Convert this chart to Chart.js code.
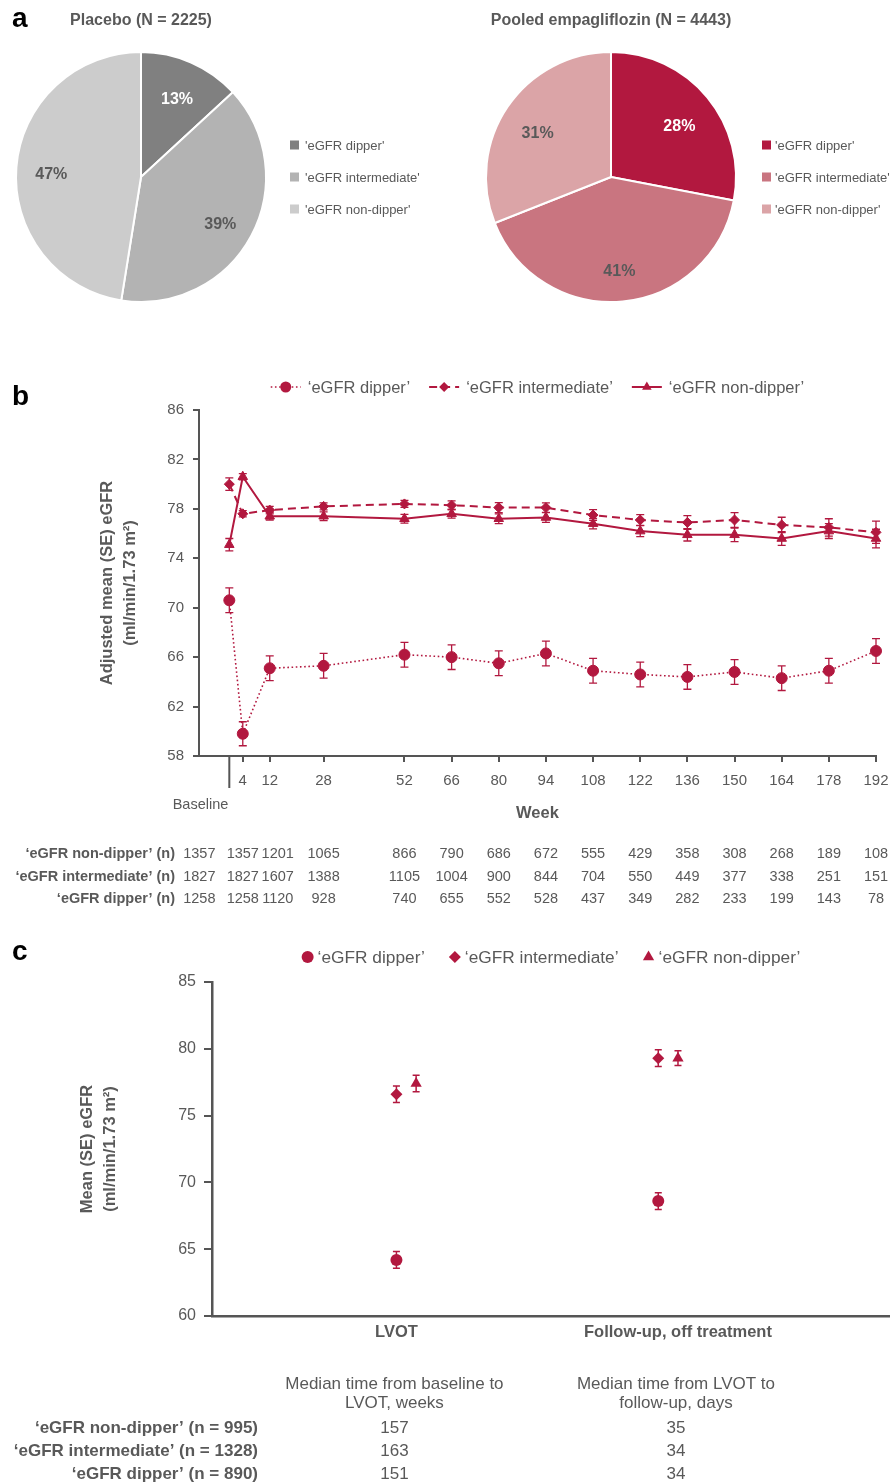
<!DOCTYPE html>
<html>
<head>
<meta charset="utf-8">
<title>eGFR dipper groups</title>
<script src="https://cdn.jsdelivr.net/npm/chart.js@4.4.1/dist/chart.umd.min.js"></script>
<style>
  html, body { margin: 0; padding: 0; background: #fff; }
  #page { position: relative; width: 890px; height: 1484px; overflow: hidden; }
  #page canvas { position: absolute; }
</style>
</head>
<body>
<div id="page">
  <canvas id="piePlacebo" width="445" height="330" style="left:0;top:0"></canvas>
  <canvas id="pieEmpa" width="445" height="330" style="left:445px;top:0"></canvas>
  <canvas id="lineChart" width="890" height="560" style="left:0;top:360px"></canvas>
  <canvas id="lvotChart" width="890" height="554" style="left:0;top:930px"></canvas>
</div>
<script>
const FONT = "'Liberation Sans', Arial, Helvetica, sans-serif";
const TEXT = '#595959';
const AXIS = '#555555';
const RED = '#b2183f';

// panel a
const pieGroups = ["'eGFR dipper'", "'eGFR intermediate'", "'eGFR non-dipper'"];
const placeboPct = [13, 39, 47];
const empaPct = [28, 41, 31];

// panel b
const weeks = [0, 4, 12, 28, 52, 66, 80, 94, 108, 122, 136, 150, 164, 178, 192];
const weekTicks = [4, 12, 28, 52, 66, 80, 94, 108, 122, 136, 150, 164, 178, 192];
const dipperMean = [70.6, 59.8, 65.1, 65.3, 66.2, 66.0, 65.5, 66.3, 64.9, 64.6, 64.4, 64.8, 64.3, 64.9, 66.5];
const dipperSE = [1.0, 0.97, 1.0, 1.0, 1.0, 1.0, 1.0, 1.0, 1.0, 1.0, 1.0, 1.0, 1.0, 1.0, 1.0];
const intermediateMean = [80.0, 77.6, 77.9, 78.2, 78.4, 78.3, 78.1, 78.1, 77.5, 77.1, 76.9, 77.1, 76.7, 76.5, 76.1];
const intermediateSE = [0.5, 0.25, 0.3, 0.28, 0.28, 0.35, 0.4, 0.38, 0.43, 0.43, 0.55, 0.6, 0.62, 0.7, 0.9];
const nonDipperMean = [75.1, 80.6, 77.4, 77.4, 77.2, 77.6, 77.2, 77.3, 76.8, 76.2, 75.9, 75.9, 75.6, 76.2, 75.6];
const nonDipperSE = [0.5, 0.25, 0.3, 0.35, 0.35, 0.35, 0.4, 0.4, 0.42, 0.45, 0.5, 0.55, 0.55, 0.6, 0.75];
const nNonDipper = [1357, 1357, 1201, 1065, 866, 790, 686, 672, 555, 429, 358, 308, 268, 189, 108];
const nIntermediate = [1827, 1827, 1607, 1388, 1105, 1004, 900, 844, 704, 550, 449, 377, 338, 251, 151];
const nDipper = [1258, 1258, 1120, 928, 740, 655, 552, 528, 437, 349, 282, 233, 199, 143, 78];

// panel c
const cTimepoints = ['LVOT', 'Follow-up, off treatment'];
const cDipperX = [1.0, 1.93];
const cDipperMean = [64.2, 68.6];
const cDipperSE = [0.62, 0.62];
const cIntermediateX = [1.0, 1.93];
const cIntermediateMean = [76.6, 79.3];
const cIntermediateSE = [0.62, 0.62];
const cNonDipperX = [1.07, 2.0];
const cNonDipperMean = [77.4, 79.3];
const cNonDipperSE = [0.62, 0.55];
const cMedianWeeks = [157, 163, 151];
const cMedianDays = [35, 34, 34];
const cRowLabels = ["\u2018eGFR non-dipper\u2019 (n = 995)", "\u2018eGFR intermediate\u2019 (n = 1328)", "\u2018eGFR dipper\u2019 (n = 890)"];

// table column nudges (px) so the first columns of panel b do not collide
const tableShiftPx = [-30, 0, 8, 0, 0, 0, 0, 0, 0, 0, 0, 0, 0, 0, 0];

Chart.defaults.font.family = FONT;
Chart.defaults.color = TEXT;

function series(xs, ys) {
    return xs.map((x, i) => ({ x: x, y: ys[i] }));
}

function text(ctx, str, x, y, font, color, align, baseline) {
    ctx.save();
    ctx.font = font;
    ctx.fillStyle = color;
    ctx.textAlign = align || 'center';
    ctx.textBaseline = baseline || 'middle';
    ctx.fillText(str, x, y);
    ctx.restore();
}

function vText(ctx, lines, xs, yc, font) {
    lines.forEach((t, i) => {
        ctx.save();
        ctx.translate(xs[i], yc);
        ctx.rotate(-Math.PI / 2);
        text(ctx, t, 0, 0, font, TEXT);
        ctx.restore();
    });
}

function drawLegend(chart, o) {
    const ctx = chart.ctx, ca = chart.chartArea;
    const sets = chart.data.datasets;
    ctx.save();
    ctx.font = o.size + 'px ' + FONT;
    const widths = sets.map(ds => ctx.measureText(ds.label).width);
    const total = widths.reduce((s, w) => s + o.sample + o.gap + w, 0) + o.spacing * (sets.length - 1);
    let x = (ca.left + ca.right) / 2 - total / 2;
    sets.forEach((ds, i) => {
        if (o.line) {
            ctx.setLineDash(ds.borderDash || []);
            ctx.lineWidth = ds.borderWidth;
            ctx.strokeStyle = ds.borderColor;
            ctx.beginPath();
            ctx.moveTo(x, o.y);
            ctx.lineTo(x + o.sample, o.y);
            ctx.stroke();
            ctx.setLineDash([]);
        }
        ctx.fillStyle = ds.pointBackgroundColor;
        ctx.strokeStyle = ds.pointBorderColor;
        Chart.helpers.drawPoint(ctx, { pointStyle: ds.pointStyle, radius: ds.pointRadius, rotation: 0, borderWidth: 0 }, x + o.sample / 2, o.y);
        ctx.fillStyle = TEXT;
        ctx.textAlign = 'left';
        ctx.textBaseline = 'middle';
        ctx.fillText(ds.label, x + o.sample + o.gap, o.y + 1);
        x += o.sample + o.gap + widths[i] + o.spacing;
    });
    ctx.restore();
}

const errorBars = {
    id: 'errorBars',
    beforeDatasetsDraw(chart, args, o) {
        const ctx = chart.ctx, y = chart.scales.y;
        chart.data.datasets.forEach((ds, i) => {
            const meta = chart.getDatasetMeta(i);
            ctx.save();
            ctx.strokeStyle = ds.borderColor;
            ctx.lineWidth = o.width;
            ctx.setLineDash([]);
            meta.data.forEach((pt, j) => {
                const v = ds.data[j].y, e = ds.errors[j];
                const top = y.getPixelForValue(v + e), bot = y.getPixelForValue(v - e);
                ctx.beginPath();
                ctx.moveTo(pt.x, top); ctx.lineTo(pt.x, bot);
                ctx.moveTo(pt.x - o.cap, top); ctx.lineTo(pt.x + o.cap, top);
                ctx.moveTo(pt.x - o.cap, bot); ctx.lineTo(pt.x + o.cap, bot);
                ctx.stroke();
            });
            ctx.restore();
        });
    }
};

const pieDecor = {
    id: 'pieDecor',
    afterDraw(chart, args, o) {
        const ctx = chart.ctx;
        const ds = chart.data.datasets[0];
        const arcs = chart.getDatasetMeta(0).data;
        arcs.forEach((arc, i) => {
            const a = (arc.startAngle + arc.endAngle) / 2;
            const r = arc.outerRadius * o.labelRadius;
            text(ctx, ds.data[i] + '%', arc.x + Math.cos(a) * r, arc.y + Math.sin(a) * r + o.labelDy, 'bold 16px ' + FONT, o.labelColors[i]);
        });
        text(ctx, o.title, arcs[0].x, 25, 'bold 16px ' + FONT, TEXT, 'center', 'alphabetic');
        if (o.letter) text(ctx, o.letter, 12, 27, 'bold 28px ' + FONT, '#000', 'left', 'alphabetic');
        chart.data.labels.forEach((lab, i) => {
            const yy = o.legendY + i * 32;
            ctx.fillStyle = ds.backgroundColor[i];
            ctx.fillRect(o.legendX, yy - 4.5, 9, 9);
            text(ctx, lab, o.legendX + o.textOffset, yy + 1, '13px ' + FONT, TEXT, 'left');
        });
    }
};

function pieChart(id, values, colors, decor) {
    return new Chart(document.getElementById(id), {
        type: 'pie',
        data: {
            labels: pieGroups,
            datasets: [{
                data: values,
                backgroundColor: colors,
                borderColor: '#ffffff',
                borderWidth: 2,
                hoverOffset: 0,
                offset: 0
            }]
        },
        options: {
            responsive: false,
            animation: false,
            devicePixelRatio: 1,
            events: [],
            layout: { padding: decor.padding },
            plugins: {
                legend: { display: false },
                tooltip: { enabled: false },
                pieDecor: decor
            }
        },
        plugins: [pieDecor]
    });
}

pieChart('piePlacebo', placeboPct, ['#808080', '#b3b3b3', '#cccccc'], {
    padding: { left: 15, right: 178, top: 51, bottom: 27 },
    title: 'Placebo (N = 2225)',
    letter: 'a',
    labelRadius: 0.72,
    labelDy: 5,
    labelColors: ['#ffffff', TEXT, TEXT],
    legendX: 290, legendY: 145, textOffset: 15
});

pieChart('pieEmpa', empaPct, ['#b2183f', '#c97580', '#dba4a7'], {
    padding: { left: 40, right: 153, top: 51, bottom: 27 },
    title: 'Pooled empagliflozin (N = 4443)',
    letter: null,
    labelRadius: 0.71,
    labelDy: 6,
    labelColors: ['#ffffff', TEXT, TEXT],
    legendX: 317, legendY: 145, textOffset: 13
});

// panel b
const lineDecor = {
    id: 'lineDecor',
    afterDraw(chart) {
        const ctx = chart.ctx, ca = chart.chartArea, x = chart.scales.x;
        text(ctx, 'b', 12, 45, 'bold 28px ' + FONT, '#000', 'left', 'alphabetic');
        drawLegend(chart, { y: 27, size: 16.5, sample: 30, gap: 7, spacing: 19, line: true });
        vText(ctx, ['Adjusted mean (SE) eGFR', '(ml/min/1.73 m\u00b2)'], [107, 130], (ca.top + ca.bottom) / 2, 'bold 16.5px ' + FONT);

        const bx = x.getPixelForValue(0);
        ctx.save();
        ctx.strokeStyle = AXIS;
        ctx.lineWidth = 2;
        ctx.beginPath();
        ctx.moveTo(bx, ca.bottom);
        ctx.lineTo(bx, ca.bottom + 32);
        ctx.stroke();
        ctx.restore();
        text(ctx, 'Baseline', bx - 1, 445, '14.5px ' + FONT, TEXT, 'right');
        text(ctx, 'Week', (ca.left + ca.right) / 2, 453, 'bold 16.5px ' + FONT, TEXT);

        const rows = [["\u2018eGFR non-dipper\u2019 (n)", nNonDipper], ["\u2018eGFR intermediate\u2019 (n)", nIntermediate], ["\u2018eGFR dipper\u2019 (n)", nDipper]];
        rows.forEach((row, r) => {
            const yy = 494 + r * 22.5;
            text(ctx, row[0], 175, yy, 'bold 14.5px ' + FONT, TEXT, 'right');
            row[1].forEach((n, i) => {
                text(ctx, String(n), x.getPixelForValue(weeks[i]) + tableShiftPx[i], yy, '14.5px ' + FONT, TEXT);
            });
        });
    }
};

new Chart(document.getElementById('lineChart'), {
    type: 'line',
    data: {
        datasets: [
            {
                label: '\u2018eGFR dipper\u2019',
                data: series(weeks, dipperMean),
                errors: dipperSE,
                borderColor: RED,
                borderWidth: 1.6,
                borderDash: [1.6, 2.6],
                pointStyle: 'circle',
                pointRadius: 5.5,
                pointBackgroundColor: RED,
                pointBorderColor: RED,
                pointBorderWidth: 1,
                clip: false
            },
            {
                label: '\u2018eGFR intermediate\u2019',
                data: series(weeks, intermediateMean),
                errors: intermediateSE,
                borderColor: RED,
                borderWidth: 2,
                borderDash: [8, 5],
                pointStyle: 'rectRot',
                pointRadius: 5,
                pointBackgroundColor: RED,
                pointBorderColor: RED,
                pointBorderWidth: 1,
                clip: false
            },
            {
                label: '\u2018eGFR non-dipper\u2019',
                data: series(weeks, nonDipperMean),
                errors: nonDipperSE,
                borderColor: RED,
                borderWidth: 2,
                pointStyle: 'triangle',
                pointRadius: 5.5,
                pointBackgroundColor: RED,
                pointBorderColor: RED,
                pointBorderWidth: 1,
                clip: false
            }
        ]
    },
    options: {
        responsive: false,
        animation: false,
        devicePixelRatio: 1,
        events: [],
        layout: { autoPadding: false, padding: { left: 0, right: 14, top: 50, bottom: 124 } },
        scales: {
            x: {
                type: 'linear',
                min: -9,
                max: 192,
                afterBuildTicks: s => { s.ticks = weekTicks.map(v => ({ value: v })); },
                afterFit: s => { s.height = 40; s.paddingLeft = 0; s.paddingRight = 0; },
                ticks: { autoSkip: false, maxRotation: 0, padding: 10, color: TEXT, font: { size: 15 } },
                grid: { display: true, drawOnChartArea: false, drawTicks: true, tickLength: 6, color: AXIS, lineWidth: 2 },
                border: { display: true, color: AXIS, width: 2 }
            },
            y: {
                min: 58,
                max: 86,
                ticks: { stepSize: 4, padding: 9, color: TEXT, font: { size: 15 } },
                afterFit: s => { s.width = 199; s.paddingTop = 0; s.paddingBottom = 0; },
                grid: { display: true, drawOnChartArea: false, drawTicks: true, tickLength: 6, color: AXIS, lineWidth: 2 },
                border: { display: true, color: AXIS, width: 2 }
            }
        },
        plugins: {
            legend: { display: false },
            tooltip: { enabled: false },
            errorBars: { width: 1.3, cap: 4 }
        }
    },
    plugins: [errorBars, lineDecor]
});

// panel c
const lvotDecor = {
    id: 'lvotDecor',
    afterDraw(chart) {
        const ctx = chart.ctx, ca = chart.chartArea, x = chart.scales.x;
        text(ctx, 'c', 12, 30, 'bold 28px ' + FONT, '#000', 'left', 'alphabetic');
        drawLegend(chart, { y: 27, size: 17.3, sample: 12, gap: 4, spacing: 24, line: false });
        vText(ctx, ['Mean (SE) eGFR', '(ml/min/1.73 m\u00b2)'], [87, 110], (ca.top + ca.bottom) / 2, 'bold 16.5px ' + FONT);

        const c1 = x.getPixelForValue(1) - 2, c2 = x.getPixelForValue(2) - 2;
        const f = '17px ' + FONT;
        text(ctx, 'Median time from baseline to', c1, 454, f, TEXT);
        text(ctx, 'LVOT, weeks', c1, 473, f, TEXT);
        text(ctx, 'Median time from LVOT to', c2, 454, f, TEXT);
        text(ctx, 'follow-up, days', c2, 473, f, TEXT);
        cRowLabels.forEach((lab, r) => {
            const yy = 498 + r * 23;
            text(ctx, lab, 258, yy, 'bold 17px ' + FONT, TEXT, 'right');
            text(ctx, String(cMedianWeeks[r]), c1, yy, f, TEXT);
            text(ctx, String(cMedianDays[r]), c2, yy, f, TEXT);
        });
    }
};

new Chart(document.getElementById('lvotChart'), {
    type: 'scatter',
    data: {
        datasets: [
            {
                label: '\u2018eGFR dipper\u2019',
                data: series(cDipperX, cDipperMean),
                errors: cDipperSE,
                borderColor: RED,
                pointStyle: 'circle',
                pointRadius: 6,
                pointBackgroundColor: RED,
                pointBorderColor: RED,
                pointBorderWidth: 0,
                clip: false
            },
            {
                label: '\u2018eGFR intermediate\u2019',
                data: series(cIntermediateX, cIntermediateMean),
                errors: cIntermediateSE,
                borderColor: RED,
                pointStyle: 'rectRot',
                pointRadius: 6,
                pointBackgroundColor: RED,
                pointBorderColor: RED,
                pointBorderWidth: 0,
                clip: false
            },
            {
                label: '\u2018eGFR non-dipper\u2019',
                data: series(cNonDipperX, cNonDipperMean),
                errors: cNonDipperSE,
                borderColor: RED,
                pointStyle: 'triangle',
                pointRadius: 6.5,
                pointBackgroundColor: RED,
                pointBorderColor: RED,
                pointBorderWidth: 0,
                clip: false
            }
        ]
    },
    options: {
        responsive: false,
        animation: false,
        devicePixelRatio: 1,
        events: [],
        layout: { autoPadding: false, padding: { left: 0, right: 0, top: 52, bottom: 128 } },
        scales: {
            x: {
                type: 'linear',
                min: 0.345,
                max: 2.753,
                afterBuildTicks: s => { s.ticks = [{ value: 1 }, { value: 2 }]; },
                afterFit: s => { s.height = 40; s.paddingLeft = 0; s.paddingRight = 0; },
                ticks: { autoSkip: false, maxRotation: 0, padding: 7, color: TEXT, font: { size: 16.5, weight: 'bold' }, callback: (v, i) => cTimepoints[i] },
                grid: { display: true, drawOnChartArea: false, drawTicks: false, color: AXIS },
                border: { display: true, color: AXIS, width: 2.5 }
            },
            y: {
                min: 60,
                max: 85,
                ticks: { stepSize: 5, padding: 8, color: TEXT, font: { size: 16 } },
                afterFit: s => { s.width = 212; s.paddingTop = 0; s.paddingBottom = 0; },
                grid: { display: true, drawOnChartArea: false, drawTicks: true, tickLength: 8, color: AXIS, lineWidth: 2 },
                border: { display: true, color: AXIS, width: 2.5 }
            }
        },
        plugins: {
            legend: { display: false },
            tooltip: { enabled: false },
            errorBars: { width: 1.5, cap: 3.5 }
        }
    },
    plugins: [errorBars, lvotDecor]
});
</script>
</body>
</html>
